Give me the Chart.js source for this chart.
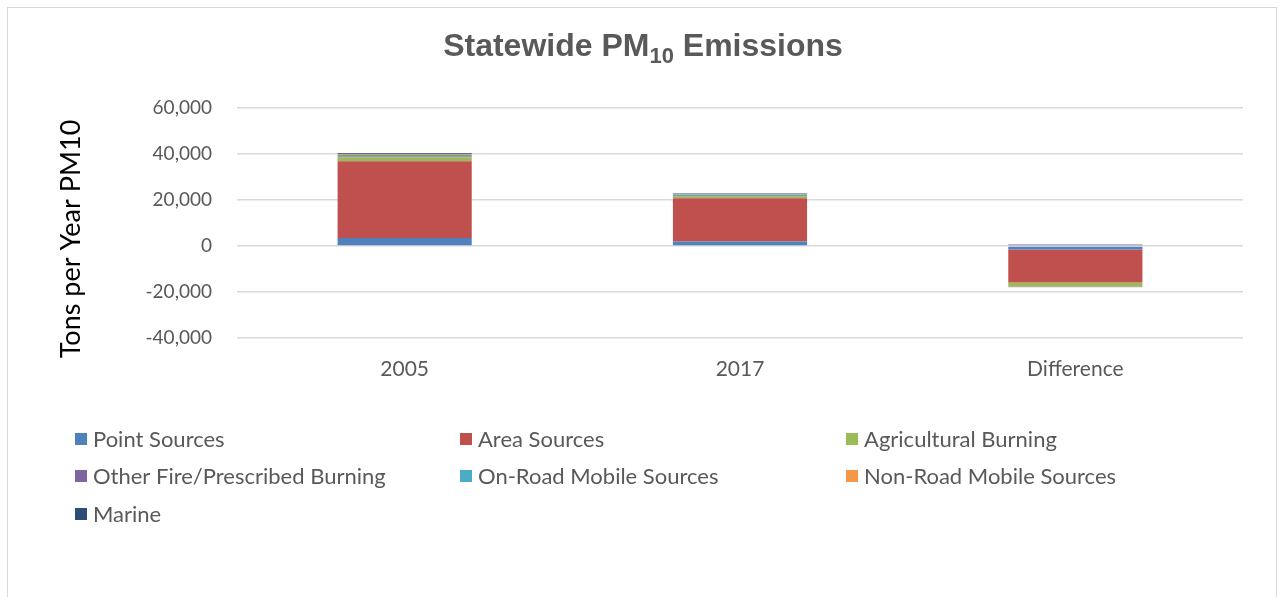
<!DOCTYPE html>
<html>
<head>
<meta charset="utf-8">
<script src="https://cdn.jsdelivr.net/npm/chart.js@4.4.1/dist/chart.umd.min.js"></script>
<style>
    html, body { margin: 0; padding: 0; background: #fff; }
    #wrap { position: relative; width: 1283px; height: 597px; overflow: hidden; }
    #frame { position: absolute; left: 7px; top: 7px; width: 1268px; height: 620px; border: 1px solid #d9d9d9; }
    canvas { position: absolute; left: 0; top: 0; }
</style>
</head>
<body>
<div id="wrap">
    <div id="frame"></div>
    <canvas id="pmChart" width="1283" height="597"></canvas>
</div>
<script>
const categories = ['2005', '2017', 'Difference'];

const pointSources   = [3500, 2000, -1500];
const areaSources    = [33300, 18800, -14400];
const agBurning      = [1800, 700, -1500];
const otherFire      = [300, 200, 500];
const onRoadMobile   = [700, 600, -200];
const nonRoadMobile  = [400, 300, -300];
const marine         = [300, 200, 100];

const yTicks = { min: -40000, max: 60000, step: 20000 };

const seriesNames  = ['Point Sources', 'Area Sources', 'Agricultural Burning',
    'Other Fire/Prescribed Burning', 'On-Road Mobile Sources', 'Non-Road Mobile Sources', 'Marine'];
const seriesValues = [pointSources, areaSources, agBurning, otherFire, onRoadMobile, nonRoadMobile, marine];
const seriesColors = ['#4f81bd', '#c0504d', '#9bbb59', '#8064a2', '#4bacc6', '#f79646', '#2c4d75'];

const textGrey = '#595959';
const bodyFont = 'Lato, "Open Sans", sans-serif';

// title with subscript 10, plus the rotated axis title
const titlePlugin = {
    id: 'pmTitle',
    afterDraw(chart) {
        const ctx = chart.ctx;
        const big = 'bold 32px "Liberation Sans", Arial, sans-serif';
        const small = 'bold 22px "Liberation Sans", Arial, sans-serif';
        const parts = [
            { t: 'Statewide PM', f: big, dy: 0 },
            { t: '10', f: small, dy: 7 },
            { t: ' Emissions', f: big, dy: 0 },
        ];
        ctx.save();
        let total = 0;
        parts.forEach(p => { ctx.font = p.f; p.w = ctx.measureText(p.t).width; total += p.w; });
        let x = 643 - total / 2;
        const base = 56;
        ctx.fillStyle = textGrey;
        ctx.textBaseline = 'alphabetic';
        parts.forEach(p => {
            ctx.font = p.f;
            ctx.fillText(p.t, x, base + p.dy);
            x += p.w;
        });

        ctx.translate(71, 239);
        ctx.rotate(-Math.PI / 2);
        ctx.font = '27px ' + bodyFont;
        ctx.fillStyle = '#000';
        ctx.textAlign = 'center';
        ctx.textBaseline = 'middle';
        ctx.fillText('Tons per Year PM10', 0, 0);
        ctx.restore();
    }
};

// legend laid out in three columns
const legendPlugin = {
    id: 'gridLegend',
    afterDraw(chart) {
        const ctx = chart.ctx;
        const cols = [75, 460, 846];
        const rows = [439, 476, 514];
        ctx.save();
        ctx.font = '22px ' + bodyFont;
        ctx.textBaseline = 'middle';
        chart.data.datasets.forEach((ds, i) => {
            const x = cols[i % 3];
            const y = rows[Math.floor(i / 3)];
            ctx.fillStyle = ds.backgroundColor;
            ctx.fillRect(x, y - 6, 12, 12);
            ctx.fillStyle = textGrey;
            ctx.fillText(ds.label, x + 18, y + 1);
        });
        ctx.restore();
    }
};

const ctx = document.getElementById('pmChart');
new Chart(ctx, {
    type: 'bar',
    data: {
        labels: categories,
        datasets: seriesNames.map((name, i) => ({
            label: name,
            data: seriesValues[i],
            backgroundColor: seriesColors[i],
            borderWidth: 0,
            categoryPercentage: 1,
            barPercentage: 0.4,
        })),
    },
    options: {
        responsive: false,
        animation: false,
        devicePixelRatio: 1,
        layout: { padding: { left: 52, top: 108, right: 40, bottom: 219 } },
        plugins: {
            legend: { display: false },
            tooltip: { enabled: false },
        },
        scales: {
            x: {
                stacked: true,
                grid: { display: false, drawTicks: false },
                border: { display: false },
                ticks: { color: textGrey, font: { size: 21, family: bodyFont }, padding: 19 },
                afterFit(scale) { scale.height = 40; },
            },
            y: {
                stacked: true,
                min: yTicks.min,
                max: yTicks.max,
                grid: { color: '#d9d9d9', lineWidth: 1.5, drawTicks: false },
                border: { display: false },
                ticks: {
                    stepSize: yTicks.step,
                    color: textGrey,
                    font: { size: 19, family: bodyFont },
                    padding: 25,
                    callback: v => v.toLocaleString('en-US'),
                },
                afterFit(scale) { scale.width = 185; },
            },
        },
    },
    plugins: [titlePlugin, legendPlugin],
});
</script>
</body>
</html>
